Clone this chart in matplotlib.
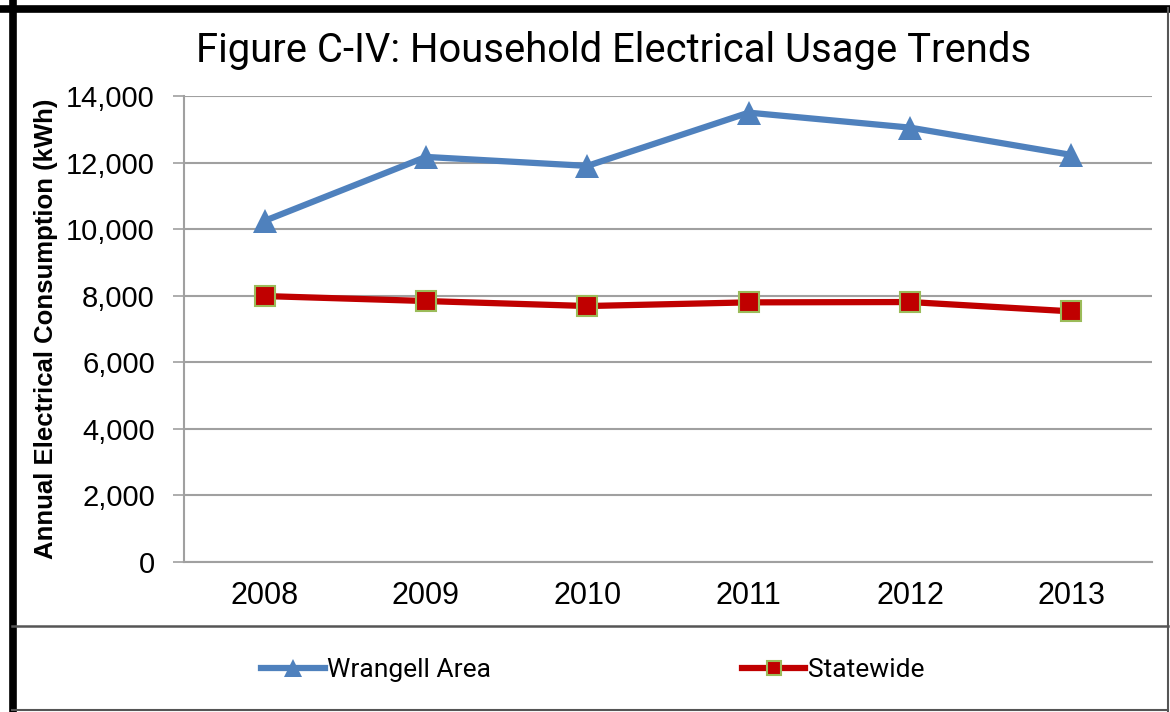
import matplotlib
matplotlib.use("Agg")
import matplotlib.pyplot as plt
from matplotlib.lines import Line2D

years = ["2008", "2009", "2010", "2011", "2012", "2013"]
wrangell = [10250, 12170, 11900, 13500, 13050, 12230]
statewide = [7990, 7840, 7690, 7800, 7810, 7530]
y_ticks = [0, 2000, 4000, 6000, 8000, 10000, 12000, 14000]

W, H = 1170, 712


def fx(px):
    return px / W


def fy(py):
    return 1 - py / H


fig = plt.figure(figsize=(W / 100, H / 100), dpi=100)
ax = fig.add_axes([fx(184), fy(562), fx(1152) - fx(184), fy(96) - fy(562)])

x = list(range(len(years)))
ax.plot(x, wrangell, color="#4F81BD", linewidth=4.5, marker="^",
        markersize=17, markeredgewidth=0, label="Wrangell Area",
        solid_joinstyle="round", zorder=3)
ax.plot(x, statewide, color="#C00000", linewidth=4.5, marker="s",
        markersize=14, markeredgecolor="#9BBB59", markeredgewidth=1.5,
        label="Statewide", zorder=3)

ax.set_xlim(-0.5, len(years) - 0.5)
ax.set_ylim(0, 14000)
ax.set_yticks(y_ticks)
ax.set_yticklabels([f"{v:,}" for v in y_ticks], fontsize=21,
                   family="Liberation Sans")
ax.set_xticks(x)
ax.set_xticklabels(years, fontsize=22, family="Liberation Sans")
ax.tick_params(axis="x", length=0, pad=14)
ax.tick_params(axis="y", length=8, width=1.2, color="#A0A0A0", pad=13)

ax.grid(axis="y", color="#A0A0A0", linewidth=1.5)
ax.set_axisbelow(True)
for side in ["top", "right"]:
    ax.spines[side].set_visible(False)
ax.spines["left"].set_color("#A0A0A0")
ax.spines["left"].set_linewidth(1.5)
ax.spines["bottom"].set_color("#A0A0A0")
ax.spines["bottom"].set_linewidth(1.5)

ax.set_ylabel("Annual Electrical Consumption (kWh)", fontsize=18.5,
              fontweight="bold", family="Liberation Sans", va="center")
ax.yaxis.set_label_coords(-(184 - 46) / (1152 - 184), 0.5)

fig.text(fx(614), fy(50), "Figure C-IV: Household Electrical Usage Trends",
         ha="center", va="center", fontsize=28.8, family="Roboto")

fig.legend(loc="center", bbox_to_anchor=(fx(593), fy(670)), ncol=2,
           frameon=False, prop={"family": "Roboto", "size": 19},
           handlelength=2.4, handletextpad=0.1, columnspacing=9.5,
           markerscale=0.75)

# outer frame and the separator above the legend
fig.add_artist(Line2D([fx(12.5), fx(12.5)], [0, 1], color="black",
                      linewidth=5.5))
fig.add_artist(Line2D([0, 1], [fy(8.5), fy(8.5)], color="black",
                      linewidth=5.5))
fig.add_artist(Line2D([fx(1168), fx(1168)], [0, fy(8)], color="#555555",
                      linewidth=1.5))
fig.add_artist(Line2D([fx(12), fx(1168)], [fy(710), fy(710)],
                      color="#555555", linewidth=1.5))
fig.add_artist(Line2D([fx(12), fx(1168)], [fy(625.5), fy(625.5)],
                      color="#555555", linewidth=1.8))

fig.savefig("out.png", dpi=100)
